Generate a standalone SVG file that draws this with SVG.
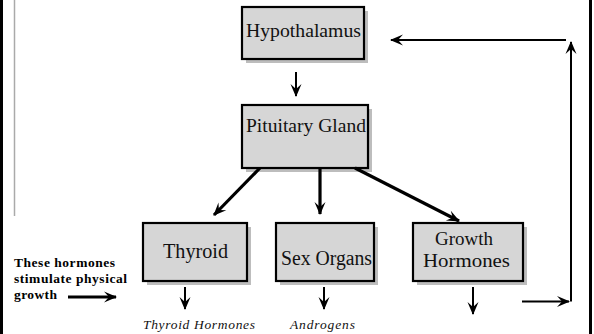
<svg xmlns="http://www.w3.org/2000/svg" width="594" height="334" viewBox="0 0 594 334">
<style>
.box{fill:#d6d6d6;stroke:#000;stroke-width:2.2}
.sh{fill:#bdbdbd}
.t{font-family:"Liberation Serif","Times New Roman",serif;font-size:19px;fill:#111}
.it{font-family:"Liberation Serif","Times New Roman",serif;font-style:italic;font-size:13.5px;fill:#111}
.b{font-family:"Liberation Serif","Times New Roman",serif;font-weight:bold;font-size:13.5px;fill:#000}
.c{fill:none;stroke:#000}
.thin{stroke-width:2}
.thick{stroke-width:3.2}
</style>
<defs>
<marker id="ah" viewBox="-13 -6 14 12" refX="0" refY="0" markerWidth="14" markerHeight="12" markerUnits="userSpaceOnUse" orient="auto">
<path d="M1,0 L-12,-5.5 L-7,0 L-12,5.5 z" fill="#000"/>
</marker>
</defs>
<rect x="0" y="0" width="3" height="334" fill="#000"/>
<rect x="589" y="0" width="3" height="334" fill="#000"/>
<line x1="14.5" y1="0" x2="14.5" y2="216" stroke="#aaa" stroke-width="1.5"/>

<g id="hypothalamus">
<rect class="sh" x="246" y="11" width="122" height="52"/>
<rect class="box" x="242" y="7" width="122" height="52"/>
<text class="t" x="246" y="37" textLength="115" lengthAdjust="spacingAndGlyphs">Hypothalamus</text>
</g>
<g id="pituitary">
<rect class="sh" x="246" y="109" width="126" height="63"/>
<rect class="box" x="242" y="105" width="126" height="63"/>
<text class="t" x="246" y="132" textLength="120" lengthAdjust="spacingAndGlyphs">Pituitary Gland</text>
</g>
<g id="thyroid">
<rect class="sh" x="147" y="227" width="104" height="58"/>
<rect class="box" x="143" y="223" width="104" height="58"/>
<text class="t" x="163" y="258" style="font-size:20px" textLength="65" lengthAdjust="spacingAndGlyphs">Thyroid</text>
</g>
<g id="sex-organs">
<rect class="sh" x="280" y="227" width="98" height="58"/>
<rect class="box" x="276" y="223" width="98" height="58"/>
<text class="t" x="281" y="265" style="font-size:20px" textLength="91" lengthAdjust="spacingAndGlyphs">Sex Organs</text>
</g>
<g id="growth-hormones">
<rect class="sh" x="417" y="227" width="110" height="58"/>
<rect class="box" x="413" y="223" width="110" height="58"/>
<text class="t" x="435" y="245" textLength="58" lengthAdjust="spacingAndGlyphs">Growth</text>
<text class="t" x="423" y="267" textLength="87" lengthAdjust="spacingAndGlyphs">Hormones</text>
</g>
<g id="labels">
<text class="b" x="14" y="267" textLength="101" lengthAdjust="spacing">These hormones</text>
<text class="b" x="14" y="283" textLength="113" lengthAdjust="spacing">stimulate physical</text>
<text class="b" x="14" y="299" textLength="43" lengthAdjust="spacing">growth</text>
<text class="it" x="143" y="329" textLength="112" lengthAdjust="spacing">Thyroid Hormones</text>
<text class="it" x="290" y="329" textLength="65" lengthAdjust="spacing">Androgens</text>
</g>
<g id="connectors">
<line class="c thin" x1="296" y1="72" x2="296" y2="96" marker-end="url(#ah)"/>
<line class="c thick" x1="260" y1="168" x2="214" y2="215" marker-end="url(#ah)"/>
<line class="c thick" x1="320" y1="168" x2="320" y2="214" marker-end="url(#ah)"/>
<line class="c thick" x1="355" y1="168" x2="459" y2="221" marker-end="url(#ah)"/>
<line class="c thin" x1="185" y1="287" x2="185" y2="309" marker-end="url(#ah)"/>
<line class="c thin" x1="324" y1="287" x2="324" y2="309" marker-end="url(#ah)"/>
<line class="c thin" x1="473" y1="287" x2="473" y2="314" marker-end="url(#ah)"/>
<line class="c thin" x1="522" y1="301.5" x2="569" y2="301.5" marker-end="url(#ah)"/>
<line class="c thin" x1="571" y1="301.5" x2="571" y2="42" marker-end="url(#ah)"/>
<line class="c thin" x1="566" y1="40" x2="391" y2="40" marker-end="url(#ah)"/>
<line class="c thick" x1="68" y1="297" x2="116" y2="297" marker-end="url(#ah)"/>
</g>
</svg>
